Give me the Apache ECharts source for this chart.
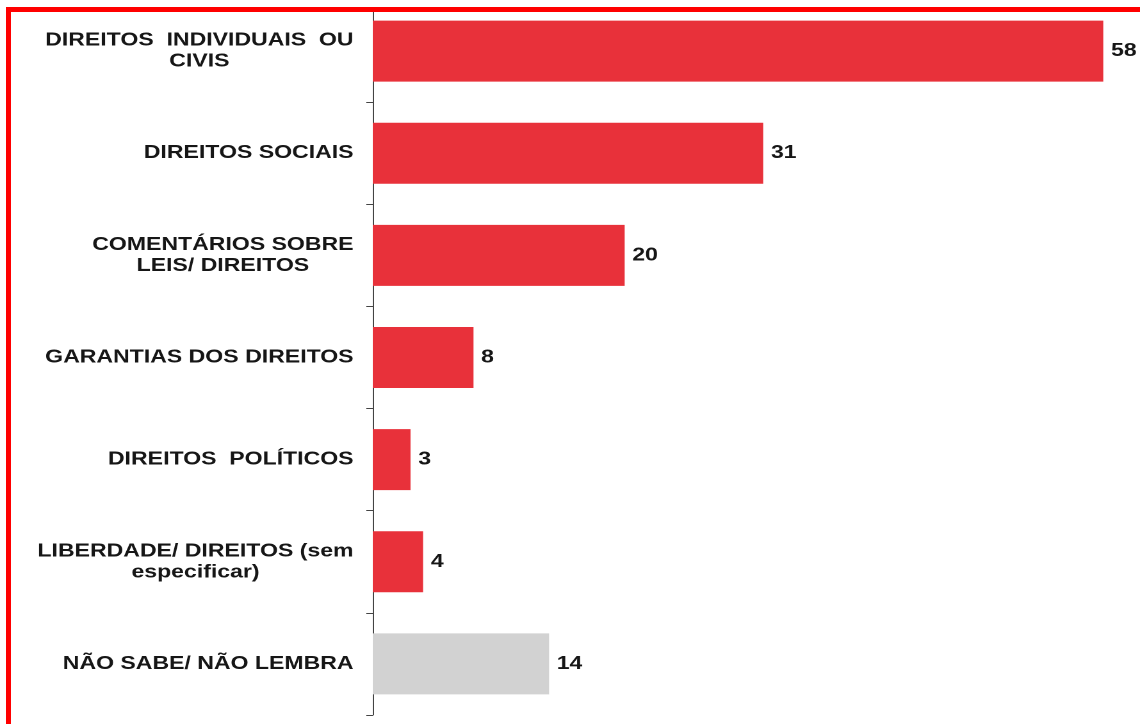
<!DOCTYPE html>
<html>
<head>
<meta charset="utf-8">
<script src="https://cdn.jsdelivr.net/npm/echarts@6/dist/echarts.min.js"></script>
<style>
  html, body { margin: 0; padding: 0; background: #fff; overflow: hidden; }
  #wrap { position: relative; width: 1140px; height: 724px; overflow: hidden; background: #fff; }
  /* chart is laid out narrower and stretched horizontally to the full width */
  #chart { position: absolute; left: 0; top: 0; width: 890px; height: 724px;
           transform: scaleX(1.28090); transform-origin: 0 0; }
  #mask { position: absolute; left: 0; top: 0; width: 1140px; height: 7px; background: #fff; }
  #frame { position: absolute; left: 6px; top: 7px; width: 1200px; height: 800px;
           border: 5px solid #ff0000; box-sizing: border-box; pointer-events: none; }
</style>
</head>
<body>
<div id="wrap">
  <div id="chart"></div>
  <div id="mask"></div>
  <div id="frame"></div>
</div>
<script>
// Categories (top to bottom) and their values
const categories = [
  'DIREITOS  INDIVIDUAIS  OU\nCIVIS',
  'DIREITOS SOCIAIS',
  'COMENTÁRIOS SOBRE\nLEIS/ DIREITOS',
  'GARANTIAS DOS DIREITOS',
  'DIREITOS  POLÍTICOS',
  'LIBERDADE/ DIREITOS (sem\nespecificar)',
  'NÃO SABE/ NÃO LEMBRA'
];
const values = [58, 31, 20, 8, 3, 4, 14];
const neutralCategory = 'NÃO SABE/ NÃO LEMBRA';

const RED = '#e8313a';
const GRAY = '#d2d2d2';
const TEXT = '#161616';
const FONT = '"Liberation Sans", Arial, sans-serif';

const chart = echarts.init(document.getElementById('chart'), null, { renderer: 'canvas', devicePixelRatio: 2 });

chart.setOption({
  animation: false,
  grid: { left: 291, right: 9, top: -1, bottom: 9, containLabel: false },
  xAxis: {
    type: 'value', min: 0, max: 60,
    show: false
  },
  yAxis: {
    type: 'category',
    inverse: true,
    data: categories,
    axisLine: { show: true, lineStyle: { color: '#444', width: 1 } },
    axisTick: { show: true, inside: false, length: 5, alignWithLabel: false, lineStyle: { color: '#444', width: 1 } },
    splitLine: { show: false },
    axisLabel: {
      margin: 15,
      align: 'right',
      verticalAlign: 'middle',
      // each line centred within the label block
      formatter: function (v) {
        return v.split('\n').map(function (line) { return '{c|' + line + '}'; }).join('\n');
      },
      rich: {
        c: { align: 'center', fontFamily: FONT, fontWeight: 'bold', fontSize: 18, color: TEXT, lineHeight: 21 }
      }
    }
  },
  series: [{
    type: 'bar',
    barWidth: 61,
    data: values.map(function (v, i) {
      return { value: v, itemStyle: { color: categories[i] === neutralCategory ? GRAY : RED } };
    }),
    label: {
      show: true,
      position: 'right',
      distance: 6,
      fontFamily: FONT,
      fontWeight: 'bold',
      fontSize: 18,
      color: TEXT
    }
  }]
});
</script>
</body>
</html>
